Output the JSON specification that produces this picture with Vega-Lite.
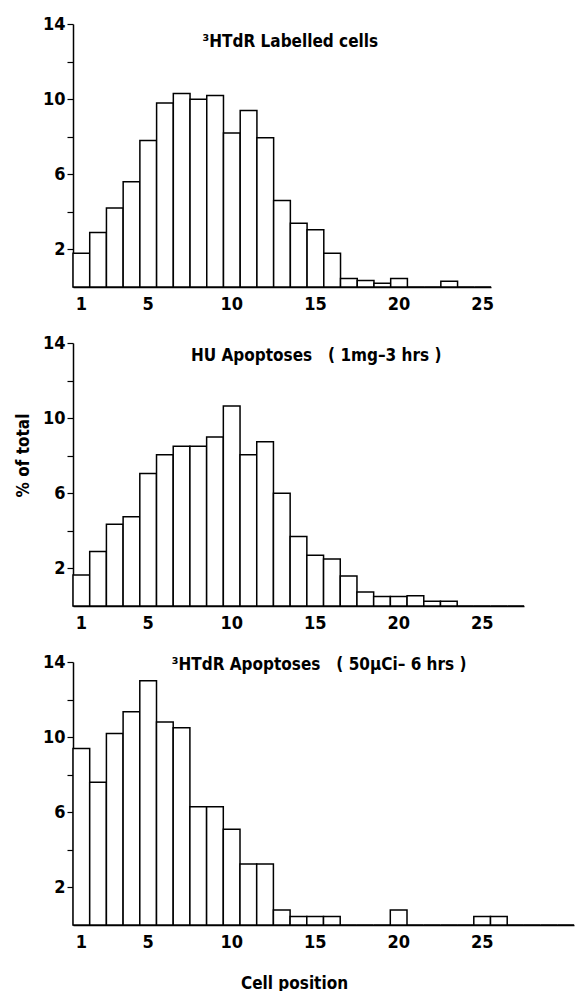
{
  "$schema": "https://vega.github.io/schema/vega-lite/v6.json",
  "background": "white",
  "padding": {"left": 14, "top": 15, "right": 0, "bottom": 0},
  "spacing": 21,
  "config": {
    "view": {"stroke": null},
    "font": "DejaVu Sans Condensed, Roboto, sans-serif",
    "axis": {
      "grid": false,
      "domainColor": "black",
      "domainWidth": 1.5,
      "tickColor": "black",
      "tickWidth": 1.2,
      "labelColor": "black",
      "labelFont": "DejaVu Sans Condensed, Roboto, sans-serif",
      "labelFontWeight": "bold",
      "labelFontSize": 18,
      "titleFont": "DejaVu Sans Condensed, Roboto, sans-serif",
      "titleFontWeight": "bold",
      "titleFontSize": 17,
      "titleColor": "black"
    },
    "bar": {"fill": "white", "stroke": "black", "strokeWidth": 1.5},
    "text": {"font": "DejaVu Sans Condensed, Roboto, sans-serif", "fontWeight": "bold", "fontSize": 17, "color": "black"}
  },
  "datasets": {
    "p1": [
      {"pos": 1, "pct": 1.8}, {"pos": 2, "pct": 2.9}, {"pos": 3, "pct": 4.2}, {"pos": 4, "pct": 5.6},
      {"pos": 5, "pct": 7.8}, {"pos": 6, "pct": 9.8}, {"pos": 7, "pct": 10.3}, {"pos": 8, "pct": 10.0},
      {"pos": 9, "pct": 10.2}, {"pos": 10, "pct": 8.2}, {"pos": 11, "pct": 9.4}, {"pos": 12, "pct": 7.95},
      {"pos": 13, "pct": 4.6}, {"pos": 14, "pct": 3.4}, {"pos": 15, "pct": 3.05}, {"pos": 16, "pct": 1.8},
      {"pos": 17, "pct": 0.45}, {"pos": 18, "pct": 0.35}, {"pos": 19, "pct": 0.2}, {"pos": 20, "pct": 0.45},
      {"pos": 21, "pct": 0}, {"pos": 22, "pct": 0}, {"pos": 23, "pct": 0.3}, {"pos": 24, "pct": 0},
      {"pos": 25, "pct": 0}
    ],
    "p2": [
      {"pos": 1, "pct": 1.65}, {"pos": 2, "pct": 2.9}, {"pos": 3, "pct": 4.35}, {"pos": 4, "pct": 4.75},
      {"pos": 5, "pct": 7.05}, {"pos": 6, "pct": 8.05}, {"pos": 7, "pct": 8.5}, {"pos": 8, "pct": 8.5},
      {"pos": 9, "pct": 9.0}, {"pos": 10, "pct": 10.65}, {"pos": 11, "pct": 8.05}, {"pos": 12, "pct": 8.75},
      {"pos": 13, "pct": 6.0}, {"pos": 14, "pct": 3.7}, {"pos": 15, "pct": 2.7}, {"pos": 16, "pct": 2.5},
      {"pos": 17, "pct": 1.6}, {"pos": 18, "pct": 0.75}, {"pos": 19, "pct": 0.5}, {"pos": 20, "pct": 0.5},
      {"pos": 21, "pct": 0.55}, {"pos": 22, "pct": 0.25}, {"pos": 23, "pct": 0.25}, {"pos": 24, "pct": 0},
      {"pos": 25, "pct": 0}, {"pos": 26, "pct": 0}, {"pos": 27, "pct": 0}
    ],
    "p3": [
      {"pos": 1, "pct": 9.4}, {"pos": 2, "pct": 7.6}, {"pos": 3, "pct": 10.2}, {"pos": 4, "pct": 11.35},
      {"pos": 5, "pct": 13.0}, {"pos": 6, "pct": 10.8}, {"pos": 7, "pct": 10.5}, {"pos": 8, "pct": 6.3},
      {"pos": 9, "pct": 6.3}, {"pos": 10, "pct": 5.1}, {"pos": 11, "pct": 3.25}, {"pos": 12, "pct": 3.25},
      {"pos": 13, "pct": 0.8}, {"pos": 14, "pct": 0.45}, {"pos": 15, "pct": 0.45}, {"pos": 16, "pct": 0.45},
      {"pos": 17, "pct": 0}, {"pos": 18, "pct": 0}, {"pos": 19, "pct": 0}, {"pos": 20, "pct": 0.8},
      {"pos": 21, "pct": 0}, {"pos": 22, "pct": 0}, {"pos": 23, "pct": 0}, {"pos": 24, "pct": 0},
      {"pos": 25, "pct": 0.45}, {"pos": 26, "pct": 0.45}, {"pos": 27, "pct": 0}, {"pos": 28, "pct": 0},
      {"pos": 29, "pct": 0}, {"pos": 30, "pct": 0}
    ]
  },
  "vconcat": [
    {
      "width": 418,
      "height": 263,
      "layer": [
        {
          "data": {"name": "p1"},
          "mark": {"type": "bar"},
          "encoding": {
            "x": {"field": "pos", "type": "ordinal", "scale": {"paddingInner": 0, "paddingOuter": 0},
              "axis": {"values": [1, 5, 10, 15, 20, 25], "ticks": false, "labelAngle": 0, "labelPadding": 8, "title": null}},
            "y": {"field": "pct", "type": "quantitative", "scale": {"domain": [0, 14], "nice": false},
              "axis": {"values": [2, 4, 6, 8, 10, 12, 14], "labelExpr": "datum.value % 4 == 2 ? datum.label : ''", "tickSize": 6, "labelPadding": 2, "title": null}}
          }
        },
        {
          "data": {"values": [{}]},
          "mark": {"type": "text", "text": "³HTdR Labelled cells", "align": "center", "baseline": "alphabetic", "dx": 0},
          "encoding": {
            "x": {"datum": 13, "type": "ordinal", "bandPosition": 1},
            "y": {"datum": 12.78, "type": "quantitative"}
          }
        }
      ]
    },
    {
      "width": 451,
      "height": 263,
      "layer": [
        {
          "data": {"name": "p2"},
          "mark": {"type": "bar"},
          "encoding": {
            "x": {"field": "pos", "type": "ordinal", "scale": {"paddingInner": 0, "paddingOuter": 0},
              "axis": {"values": [1, 5, 10, 15, 20, 25], "ticks": false, "labelAngle": 0, "labelPadding": 8, "title": null}},
            "y": {"field": "pct", "type": "quantitative", "scale": {"domain": [0, 14], "nice": false},
              "axis": {"values": [2, 4, 6, 8, 10, 12, 14], "labelExpr": "datum.value % 4 == 2 ? datum.label : ''", "tickSize": 6, "labelPadding": 2, "title": "% of total", "titlePadding": 10, "titleY": 112}}
          }
        },
        {
          "data": {"values": [{}]},
          "mark": {"type": "text", "text": "HU Apoptoses\u00a0\u00a0\u00a0( 1mg–3\u00a0hrs )", "align": "center", "baseline": "alphabetic", "dx": 26},
          "encoding": {
            "x": {"datum": 13, "type": "ordinal", "bandPosition": 1},
            "y": {"datum": 13.04, "type": "quantitative"}
          }
        }
      ]
    },
    {
      "width": 501,
      "height": 263,
      "layer": [
        {
          "data": {"name": "p3"},
          "mark": {"type": "bar"},
          "encoding": {
            "x": {"field": "pos", "type": "ordinal", "scale": {"paddingInner": 0, "paddingOuter": 0},
              "axis": {"values": [1, 5, 10, 15, 20, 25], "ticks": false, "labelAngle": 0, "labelPadding": 8, "title": "Cell position", "titleX": 221, "titlePadding": 24}},
            "y": {"field": "pct", "type": "quantitative", "scale": {"domain": [0, 14], "nice": false},
              "axis": {"values": [2, 4, 6, 8, 10, 12, 14], "labelExpr": "datum.value % 4 == 2 ? datum.label : ''", "tickSize": 6, "labelPadding": 2, "title": null}}
          }
        },
        {
          "data": {"values": [{}]},
          "mark": {"type": "text", "text": "³HTdR Apoptoses\u00a0\u00a0\u00a0( 50µCi– 6 hrs )", "align": "center", "baseline": "alphabetic", "dx": 29},
          "encoding": {
            "x": {"datum": 13, "type": "ordinal", "bandPosition": 1},
            "y": {"datum": 13.57, "type": "quantitative"}
          }
        }
      ]
    }
  ]
}
